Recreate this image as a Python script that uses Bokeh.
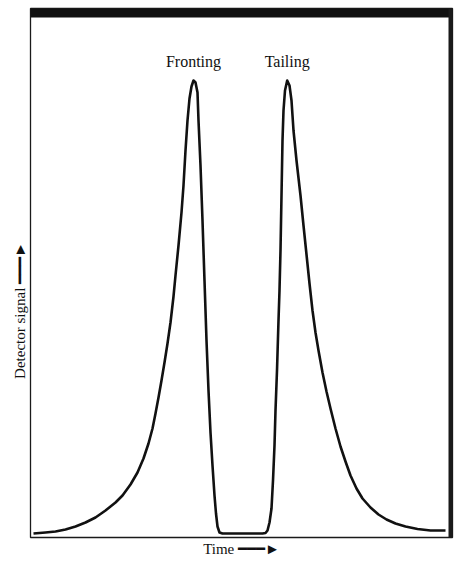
from bokeh.plotting import figure
from bokeh.models import Range1d, Span, FixedTicker, ColumnDataSource
from bokeh.core.properties import value
from bokeh.embed import file_html
from bokeh.resources import INLINE

# ---- data (arbitrary units) ----
# fronting peak (slow rise, sharp fall)
front_time = [3, 15, 25, 35, 45, 55, 65, 75, 85, 92,
              100, 107, 113, 118, 122, 125, 128, 131, 134, 137,
              140, 143, 145, 148, 151, 153, 155, 157, 159, 161,
              163, 165, 167, 168, 170, 172, 174, 176, 178, 180,
              182, 184, 185.5, 187, 189, 192]
front_signal = [0, 1, 2, 4, 7, 11, 16, 23, 31, 38,
                49, 61, 75, 90, 105, 120, 136, 153, 171, 190,
                211, 237, 258, 288, 321, 348, 383, 413, 435, 447,
                453, 451, 441, 413, 368, 313, 253, 193, 143, 101,
                68, 38, 20, 7, 1, 0]
# baseline between the peaks
gap_time = [210, 232]
gap_signal = [0, 0]
# tailing peak (sharp rise, slow decay)
tail_time = [235, 237, 239, 241, 242.5, 244, 245, 246.5, 248, 249,
             250, 251, 252, 253, 254.5, 256.7, 259, 261, 263, 266,
             270, 273, 276, 279, 282, 285, 288, 292, 296, 300,
             305, 310, 315, 320, 326, 332, 340, 348, 356, 365,
             375, 387, 400, 415]
tail_signal = [0.5, 3, 11, 25, 53, 88, 123, 163, 213, 243,
               283, 338, 393, 423, 443, 453, 448, 433, 403, 373,
               338, 308, 279, 250, 223, 201, 183, 161, 142, 125,
               105, 87, 72, 58, 45, 35, 26, 19, 14, 10,
               7, 4.5, 3, 3]
peak_names = ["Fronting", "Tailing"]
arrow = "\u2501\u2501\u2501\u25ba"
x_label = "Time " + arrow
y_label = "Detector signal " + arrow

time = front_time + gap_time + tail_time
signal = front_signal + gap_signal + tail_signal

# label positions derived from each peak's maximum
def peak(ts, ss):
    m = max(ss)
    return ts[ss.index(m)], m
f_pk = peak(front_time, front_signal)
t_pk = peak(tail_time, tail_signal)
lab_src = ColumnDataSource(dict(x=[f_pk[0], t_pk[0]],
                                y=[f_pk[1] + 11, t_pk[1] + 11],
                                t=peak_names))

x_start, x_end = 0, 422
y_start, y_end = -4, 525

p = figure(width=454, height=561, output_backend="svg", toolbar_location=None,
           x_range=Range1d(x_start, x_end), y_range=Range1d(y_start, y_end),
           min_border_left=30, min_border_right=2, min_border_top=8,
           min_border_bottom=24)
p.background_fill_color = "white"
p.border_fill_color = "white"
p.outline_line_color = "#1a1a1a"
p.outline_line_width = 1.3
p.xgrid.visible = False
p.ygrid.visible = False

for ax in (p.xaxis[0], p.yaxis[0]):
    ax.ticker = FixedTicker(ticks=[])
    ax.major_tick_in = 0
    ax.major_tick_out = 0
    ax.minor_tick_in = 0
    ax.minor_tick_out = 0
    ax.axis_line_color = None
    ax.major_label_text_font_size = "0px"
    ax.major_label_standoff = 0
    ax.axis_label_standoff = 3
    ax.axis_label_text_font = "Liberation Serif"
    ax.axis_label_text_font_style = "normal"
    ax.axis_label_text_font_size = "15px"
    ax.axis_label_text_color = "#111111"
p.xaxis.axis_label = x_label
# trailing no-break spaces push the vertical title a little below the middle
p.yaxis.axis_label = y_label + "\u00a0" * 20

p.line(time, signal, line_color="#111111", line_width=2.6, line_join="round")

p.text(x="x", y="y", text="t", source=lab_src, text_align="center",
       text_baseline="bottom", text_font=value("Liberation Serif"),
       text_font_size="16px", text_color="#111111")

# heavy scanned edge at the top and right of the frame
p.add_layout(Span(location=y_end - 4.5, dimension="width", line_color="#111111", line_width=9))
p.add_layout(Span(location=x_end - 2, dimension="height", line_color="#1a1a1a", line_width=4))

open("out.html", "w").write(file_html(p, INLINE))
